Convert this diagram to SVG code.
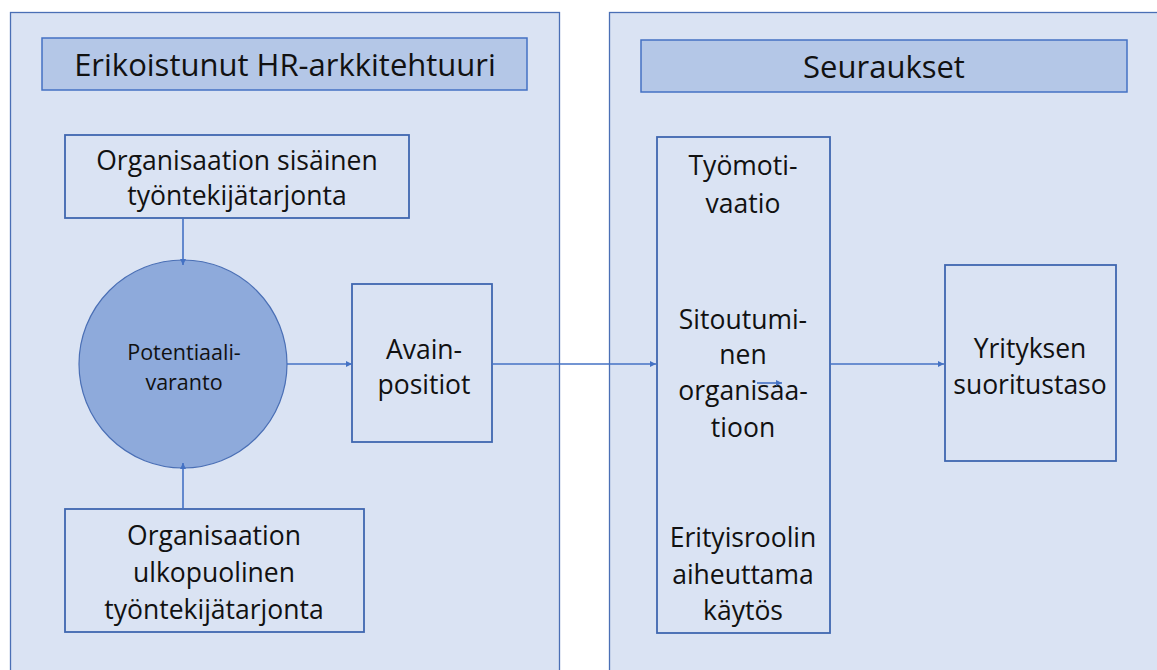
<svg xmlns="http://www.w3.org/2000/svg" width="1157" height="670" viewBox="0 0 1157 670">
<defs>
<style>
.panel{fill:#dae3f3;stroke:#4a6fb5;stroke-width:1.3}
.title{fill:#b4c7e7;stroke:#4472c4;stroke-width:1.5}
.box{fill:none;stroke:#3f66b0;stroke-width:1.8}
.circ{fill:#8eaadb;stroke:#4a6fb5;stroke-width:1.2}
text{font-family:"Open Sans",Lato,"Liberation Sans",sans-serif;fill:#111;text-anchor:middle}
.t26{font-size:31px}
.t24{font-size:26.5px}
.t19{font-size:21.5px}
.conn line{stroke:#4472c4;stroke-width:1.6;fill:none}
</style>
<marker id="arr" viewBox="0 0 10 10" refX="10" refY="5" markerWidth="6" markerHeight="6" markerUnits="userSpaceOnUse" orient="auto">
<path d="M0,0 L10,5 L0,10 z" fill="#4472c4"/>
</marker>
</defs>
<rect width="1157" height="670" fill="#ffffff"/>
<g id="panel-left">
<rect class="panel" x="10.5" y="12.5" width="549" height="665"/>
</g>
<g id="panel-right">
<rect class="panel" x="609.5" y="12.5" width="560" height="665"/>
</g>
<g id="title-left">
<rect class="title" x="42" y="38" width="485" height="52"/>
<text class="t26" x="285" y="76">Erikoistunut HR-arkkitehtuuri</text>
</g>
<g id="title-right">
<rect class="title" x="641" y="40" width="486" height="52"/>
<text class="t26" x="884" y="78">Seuraukset</text>
</g>
<g id="internal-supply">
<rect class="box" x="65" y="135" width="344" height="83"/>
<text class="t24" x="237" y="170">Organisaation sisäinen</text>
<text class="t24" x="237" y="205">työntekijätarjonta</text>
</g>
<g id="pool">
<circle class="circ" cx="183" cy="364" r="104"/>
<text class="t19" x="184" y="360">Potentiaali-</text>
<text class="t19" x="184" y="390">varanto</text>
</g>
<g id="key-positions">
<rect class="box" x="352" y="284" width="140" height="158"/>
<text class="t24" x="424" y="359">Avain-</text>
<text class="t24" x="424" y="394">positiot</text>
</g>
<g id="external-supply">
<rect class="box" x="65" y="509" width="299" height="123"/>
<text class="t24" x="214" y="545">Organisaation</text>
<text class="t24" x="214" y="582">ulkopuolinen</text>
<text class="t24" x="214" y="619">työntekijätarjonta</text>
</g>
<g id="outcomes">
<rect class="box" x="657" y="137" width="173" height="496"/>
<text class="t24" x="743" y="175">Työmoti-</text>
<text class="t24" x="743" y="213">vaatio</text>
<text class="t24" x="743" y="329">Sitoutumi-</text>
<text class="t24" x="743" y="364">nen</text>
<text class="t24" x="743" y="400">organisaa-</text>
<text class="t24" x="743" y="437">tioon</text>
<text class="t24" x="743" y="547">Erityisroolin</text>
<text class="t24" x="743" y="584">aiheuttama</text>
<text class="t24" x="743" y="620">käytös</text>
</g>
<g id="performance">
<rect class="box" x="945" y="265" width="171" height="196"/>
<text class="t24" x="1030" y="358">Yrityksen</text>
<text class="t24" x="1030" y="394">suoritustaso</text>
</g>
<g id="connectors" class="conn">
<line x1="183" y1="218" x2="183" y2="265" marker-end="url(#arr)"/>
<line x1="183" y1="509" x2="183" y2="463" marker-end="url(#arr)"/>
<line x1="287" y1="364" x2="352" y2="364" marker-end="url(#arr)"/>
<line x1="492" y1="364" x2="656" y2="364" marker-end="url(#arr)"/>
<line x1="830" y1="364" x2="944" y2="364" marker-end="url(#arr)"/>
<line x1="757" y1="383" x2="782" y2="383" marker-end="url(#arr)"/>
</g>
</svg>
